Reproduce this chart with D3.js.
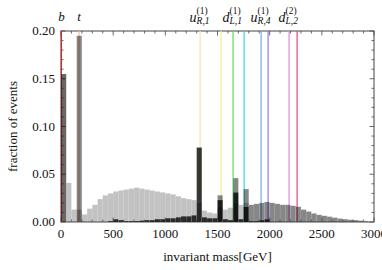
<!DOCTYPE html>
<html>
<head>
<meta charset="utf-8">
<script src="https://cdn.jsdelivr.net/npm/d3@7"></script>
<style>
  body { margin: 0; background: #fff; }
  text { font-family: "Liberation Serif", "DejaVu Serif", serif; fill: #111; }
</style>
</head>
<body>
<div id="chart"></div>
<script>
"use strict";

// histogram bins, 50 GeV wide, starting at 0
var binWidth = 50;

// broad light distribution
var broadVals = [0.155, 0.041, 0.013, 0.013, 0.008, 0.014, 0.018, 0.024, 0.028, 0.030,
                 0.032, 0.033, 0.034, 0.035, 0.036, 0.035, 0.034, 0.033, 0.032, 0.031,
                 0.030, 0.029, 0.027, 0.025, 0.024, 0.023, 0.020, 0.012, 0.010, 0.009,
                 0.015, 0.013, 0.015, 0.020, 0.018, 0.020];

// medium grey: b, t peaks and the heavy hump
var heavyVals = [0.155, 0, 0, 0.195, 0, 0, 0, 0, 0, 0,
                 0, 0, 0, 0, 0, 0, 0, 0, 0, 0,
                 0, 0, 0, 0, 0, 0, 0, 0, 0, 0,
                 0.028, 0, 0, 0.046, 0, 0.0345, 0.018, 0.019, 0.020, 0.021,
                 0.020, 0.019, 0.018, 0.018, 0.017, 0.016, 0.013, 0.011, 0.009, 0.0075,
                 0.0065, 0.0056, 0.0046, 0.0036, 0.003, 0.0024, 0.002, 0.0014, 0.0009, 0.0004];

// darkest layer with the resonance spikes
var darkVals = [0, 0, 0, 0, 0, 0, 0, 0, 0, 0.001,
                0.003, 0.002, 0.001, 0.001, 0.001, 0.0015, 0.002, 0.002, 0.003, 0.003,
                0.004, 0.004, 0.005, 0.006, 0.006, 0.007, 0.078, 0.005, 0.004, 0.004,
                0.023, 0.003, 0.002, 0.031, 0.003, 0.016, 0.001, 0.001, 0.002, 0.003];

// particle masses marked with vertical lines
var lineMasses = [4.2, 173, 1333, 1534, 1649, 1755, 1918, 1985, 2186, 2263];
var lineColors = ["#c8302c", "#f3c096", "#fbe0a4", "#f2f08a", "#5fd85f",
                  "#38dada", "#6eaaec", "#8c7cec", "#dc86ec", "#e8407c"];

var quarkLabels = [{ m: 4.2, name: "b" }, { m: 173, name: "t" }];
var kkLabels = [
  { m: 1333, main: "u", sup: "(1)", sub: "R,1" },
  { m: 1649, main: "d", sup: "(1)", sub: "L,1" },
  { m: 1918, main: "u", sup: "(1)", sub: "R,4" },
  { m: 2186, main: "d", sup: "(2)", sub: "L,2" }
];

var xTicks = [0, 500, 1000, 1500, 2000, 2500, 3000];
var yTicks = [0, 0.05, 0.10, 0.15, 0.20];

var margin = { top: 31, right: 8, bottom: 48, left: 61 },
    width = 382 - margin.left - margin.right,
    height = 270 - margin.top - margin.bottom;

var svg = d3.select("#chart")
            .append("svg")
            .attr("width", 382)
            .attr("height", 270)
            .append("g")
            .attr("transform", "translate(" + margin.left + "," + margin.top + ")");

var x = d3.scaleLinear().domain([0, 3000]).range([0, width]);
var y = d3.scaleLinear().domain([0, 0.2]).range([height, 0]);

// frame with inward ticks on all sides
var frameColor = "#444";
svg.append("rect")
   .attr("width", width).attr("height", height)
   .attr("fill", "none").attr("stroke", frameColor).attr("stroke-width", 1);

var xMinor = d3.range(0, 3001, 100);
var yMinor = d3.range(0, 0.2001, 0.01);
function isMajorX(v) { return v % 500 === 0; }
function isMajorY(v) { return Math.abs(v / 0.05 - Math.round(v / 0.05)) < 1e-6; }

var tickG = svg.append("g").attr("stroke", frameColor).attr("stroke-width", 0.8);
xMinor.forEach(function (v) {
  var len = isMajorX(v) ? 4.5 : 2.5;
  tickG.append("line").attr("x1", x(v)).attr("x2", x(v)).attr("y1", height).attr("y2", height - len);
  tickG.append("line").attr("x1", x(v)).attr("x2", x(v)).attr("y1", 0).attr("y2", len);
});
yMinor.forEach(function (v) {
  var len = isMajorY(v) ? 4.5 : 2.5;
  tickG.append("line").attr("y1", y(v)).attr("y2", y(v)).attr("x1", 0).attr("x2", len);
  tickG.append("line").attr("y1", y(v)).attr("y2", y(v)).attr("x1", width).attr("x2", width - len);
});

// vertical mass lines (drawn under the translucent bars)
svg.selectAll(".massline")
   .data(lineMasses)
   .enter()
   .append("line")
   .attr("class", "massline")
   .attr("x1", function (d) { return x(d); })
   .attr("x2", function (d) { return x(d); })
   .attr("y1", 0)
   .attr("y2", height)
   .attr("stroke", function (d, i) { return lineColors[i]; })
   .attr("stroke-width", 1.2);

// histograms, black with opacity so overlaps get darker
var series = [broadVals, heavyVals, darkVals];
var seriesOpacity = [0.24, 0.47, 0.78];

series.forEach(function (vals, s) {
  svg.append("g")
     .selectAll("rect")
     .data(vals.map(function (v, i) { return { x0: i * binWidth, v: v }; })
               .filter(function (d) { return d.v > 0; }))
     .enter()
     .append("rect")
     .attr("x", function (d) { return x(d.x0); })
     .attr("width", x(binWidth) - x(0))
     .attr("y", function (d) { return y(d.v); })
     .attr("height", function (d) { return y(0) - y(d.v); })
     .attr("fill", "#000")
     .attr("fill-opacity", seriesOpacity[s])
     .attr("stroke", "#fff")
     .attr("stroke-opacity", 0.25)
     .attr("stroke-width", 0.4);
});

// tick labels
svg.selectAll(".xlab")
   .data(xTicks)
   .enter()
   .append("text")
   .attr("x", function (d) { return x(d); })
   .attr("y", height + 16)
   .attr("text-anchor", "middle")
   .style("font-size", "13px")
   .text(function (d) { return d; });

svg.selectAll(".ylab")
   .data(yTicks)
   .enter()
   .append("text")
   .attr("x", -6)
   .attr("y", function (d) { return y(d); })
   .attr("dy", "0.32em")
   .attr("text-anchor", "end")
   .style("font-size", "13px")
   .text(function (d) { return d3.format(".2f")(d); });

// axis titles
svg.append("text")
   .attr("x", width / 2)
   .attr("y", height + 39)
   .attr("text-anchor", "middle")
   .style("font-size", "13px")
   .text("invariant mass[GeV]");

svg.append("text")
   .attr("transform", "translate(" + (-44) + "," + (height / 2) + ") rotate(-90)")
   .attr("text-anchor", "middle")
   .style("font-size", "13px")
   .text("fraction of events");

// particle labels above the frame
svg.selectAll(".qlab")
   .data(quarkLabels)
   .enter()
   .append("text")
   .attr("x", function (d) { return x(d.m); })
   .attr("y", -10)
   .attr("text-anchor", "middle")
   .style("font-size", "13px")
   .style("font-style", "italic")
   .text(function (d) { return d.name; });

var kk = svg.selectAll(".kklab")
            .data(kkLabels)
            .enter()
            .append("g")
            .attr("transform", function (d) { return "translate(" + (x(d.m) - 3.5) + ",0)"; });
kk.append("text")
  .attr("y", -9)
  .attr("text-anchor", "end")
  .style("font-size", "14px")
  .style("font-style", "italic")
  .text(function (d) { return d.main; });
kk.append("text")
  .attr("y", -17)
  .style("font-size", "9.5px")
  .text(function (d) { return d.sup; });
kk.append("text")
  .attr("y", -7)
  .style("font-size", "9.5px")
  .style("font-style", "italic")
  .text(function (d) { return d.sub; });
</script>
</body>
</html>
